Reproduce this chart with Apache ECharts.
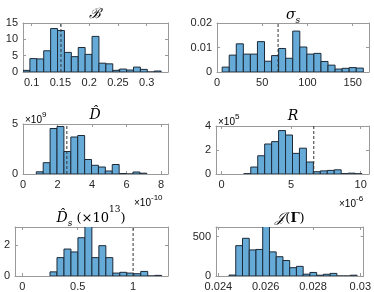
<!DOCTYPE html>
<html><head><meta charset="utf-8">
<script src="https://cdn.jsdelivr.net/npm/echarts@6/dist/echarts.min.js"></script>
<style>html,body{margin:0;padding:0;background:#fff}#c{width:374px;height:292px}</style>
</head><body><div id="c"></div>
<script>
// ---- data ----
const bEdges = [0.085,0.097,0.109,0.121,0.133,0.145,0.157,0.169,0.181,0.193,0.205,0.217,0.229,0.241,0.253,0.265,0.277,0.289,0.301,0.313,0.325];
const bVals  = [0.5,4.1,4.0,6.5,13.3,12.7,6.0,4.7,7.5,5.4,10.9,2.7,2.5,0.5,0.9,0.6,1.5,0.8,0,0.3];
const bMark = 0.151;

const sEdges = [5.7,13.5,21.3,29.1,36.9,44.7,52.5,60.3,68.1,75.9,83.7,91.5,99.3,107.1,114.9,122.7,130.5,138.3,146.1,153.9,161.7];
const sVals  = [0.0020,0.0069,0.0115,0.0073,0.0073,0.0124,0.0044,0.0067,0.0096,0.0056,0.0167,0.0102,0.0073,0.0076,0.0043,0.0028,0.0012,0.0015,0.0018,0.0016];
const sMark = 67.5;

const dEdges = [0.77,1.17,1.57,1.97,2.37,2.77,3.17,3.57,3.97,4.37,4.77,5.17,5.57,5.97,6.37,6.77,7.17];
const dVals  = [0.22,1.13,4.55,4.75,2.25,3.7,3.85,1.45,0.87,0.7,0.3,0.95,0.05,0,0.2,0.08];
const dMark = 2.54;

const rEdges = [1.6,2.1,2.6,3.1,3.6,4.1,4.6,5.1,5.6,6.1,6.6,7.1,7.6,8.1,8.6,9.1,9.6,10.1];
const rVals  = [0.03,0.58,1.52,2.5,2.7,3.62,3.25,1.72,2.15,1.0,0.19,0.26,0.3,0.35,0.03,0.07,0.02];
const rMark = 6.63;

const dsEdges = [0.25,0.313,0.376,0.439,0.502,0.565,0.628,0.691,0.754,0.817,0.88,0.943,1.006,1.069,1.132,1.195,1.258];
const dsVals  = [0.27,1.2,1.76,1.57,2.5,3.4,1.2,1.98,1.2,0.19,0.24,0.19,0.15,0.3,0,0.04];
const dsMark = 1.0;

const jEdges = [0.02445,0.024735,0.02502,0.025305,0.02559,0.025875,0.02616,0.026445,0.02673,0.027015,0.0273,0.027585,0.02787,0.028155,0.02844,0.028725,0.02901,0.029295,0.02958,0.029865];
const jVals  = [12,384,477,330,336,650,305,244,196,105,122,23,45,10,22,33,0,0,10];

const bXTicks = [0.1,0.15,0.2,0.25,0.3];   const bYTicks = [0,5,10,15];
const sXTicks = [0,50,100,150];            const sYTicks = [0,0.01,0.02];
const dXTicks = [0,2,4,6,8];               const dYTicks = [0,5];
const rXTicks = [0,5,10];                  const rYTicks = [0,2,4];
const dsXTicks = [0,0.5,1];                const dsYTicks = [0,2];
const jXTicks = [0.024,0.026,0.028,0.03];  const jYTicks = [0,500];

// ---- layout ----
const panels = [
  {edges:bEdges, vals:bVals, mark:bMark, xt:bXTicks, yt:bYTicks, xr:[0.085,0.337], yr:[0,15],   g:{left:23, top:23, width:145, height:49}},
  {edges:sEdges, vals:sVals, mark:sMark, xt:sXTicks, yt:sYTicks, xr:[0,168],       yr:[0,0.02], g:{left:217,top:23, width:152, height:49}},
  {edges:dEdges, vals:dVals, mark:dMark, xt:dXTicks, yt:dYTicks, xr:[0,8.4],       yr:[0,5],    g:{left:23, top:124,width:145, height:50}},
  {edges:rEdges, vals:rVals, mark:rMark, xt:rXTicks, yt:rYTicks, xr:[-0.4,10.6],   yr:[0,4],    g:{left:216,top:126,width:153, height:48}},
  {edges:dsEdges,vals:dsVals,mark:dsMark,xt:dsXTicks,yt:dsYTicks,xr:[-0.066,1.315],yr:[0,3.2],  g:{left:15, top:227,width:153, height:49}},
  {edges:jEdges, vals:jVals, mark:null,  xt:jXTicks, yt:jYTicks, xr:[0.0239,0.03014],yr:[0,620],g:{left:216,top:227,width:153, height:50}}
];

const boxColor = '#9a9a9a';
const txtColor = '#262626';
const fmt = v => String(+(+v).toFixed(6));
const labelFont = {fontFamily:'Liberation Sans', fontSize:11, color:txtColor};

const grid=[], xAxis=[], yAxis=[], series=[];
panels.forEach((p,i)=>{
  grid.push(Object.assign({containLabel:false}, p.g));
});
panels.forEach((p,i)=>{
  xAxis.push({type:'value', gridIndex:i, min:p.xr[0], max:p.xr[1], position:'bottom',
    axisLine:{show:true, onZero:false, lineStyle:{color:boxColor, width:1}},
    axisTick:{show:true, inside:true, length:3, customValues:p.xt, lineStyle:{color:boxColor}},
    axisLabel:Object.assign({show:true, customValues:p.xt, formatter:fmt, margin:5, hideOverlap:false, showMinLabel:true, showMaxLabel:true}, labelFont),
    splitLine:{show:false}});
});
panels.forEach((p,i)=>{
  xAxis.push({type:'value', gridIndex:i, min:p.xr[0], max:p.xr[1], position:'top',
    axisLine:{show:true, onZero:false, lineStyle:{color:boxColor, width:1}},
    axisTick:{show:true, inside:true, length:3, customValues:p.xt, lineStyle:{color:boxColor}},
    axisLabel:{show:false}, splitLine:{show:false}});
});
panels.forEach((p,i)=>{
  yAxis.push({type:'value', gridIndex:i, min:p.yr[0], max:p.yr[1], position:'left',
    axisLine:{show:true, onZero:false, lineStyle:{color:boxColor, width:1}},
    axisTick:{show:true, inside:true, length:3, customValues:p.yt, lineStyle:{color:boxColor}},
    axisLabel:Object.assign({show:true, customValues:p.yt, formatter:fmt, margin:5, showMinLabel:true, showMaxLabel:true}, labelFont),
    splitLine:{show:false}});
});
panels.forEach((p,i)=>{
  yAxis.push({type:'value', gridIndex:i, min:p.yr[0], max:p.yr[1], position:'right',
    axisLine:{show:true, onZero:false, lineStyle:{color:boxColor, width:1}},
    axisTick:{show:true, inside:true, length:3, customValues:p.yt, lineStyle:{color:boxColor}},
    axisLabel:{show:false}, splitLine:{show:false}});
});

panels.forEach((p,i)=>{
  const data = p.vals.map((v,k)=>[p.edges[k], p.edges[k+1], v]);
  series.push({type:'custom', xAxisIndex:i, yAxisIndex:i, clip:true, silent:true, animation:false,
    data, encode:{x:[0,1], y:2},
    renderItem:(params, api)=>{
      const a = api.coord([api.value(0), api.value(2)]);
      const b = api.coord([api.value(1), 0]);
      return {type:'rect', shape:{x:a[0], y:a[1], width:b[0]-a[0], height:b[1]-a[1]},
        style:{fill:'#66aad7', stroke:'#1c2a38', lineWidth:1}};
    }});
  if(p.mark!==null){
    series.push({type:'line', xAxisIndex:i, yAxisIndex:i, symbol:'none', silent:true, animation:false,
      data:[[p.mark,p.yr[0]],[p.mark,p.yr[1]]],
      lineStyle:{color:'#333', width:1, type:[3,2]}, z:5});
  }
});

const serif = 'DejaVu Serif';
const titleRich = {
  i:{fontFamily:serif, fontStyle:'italic', fontSize:14, color:'#000', lineHeight:20, verticalAlign:'bottom'},
  n:{fontFamily:serif, fontSize:13, color:'#000', lineHeight:20, verticalAlign:'bottom'},
  b:{fontFamily:serif, fontWeight:'bold', fontSize:13, color:'#000', lineHeight:20, verticalAlign:'bottom'},
  sub:{fontFamily:serif, fontStyle:'italic', fontSize:9, color:'#000', lineHeight:14, verticalAlign:'bottom', padding:[0,0,-3,0]},
  sup:{fontFamily:serif, fontSize:9, color:'#000', lineHeight:20, verticalAlign:'top'}
};
const expRich = {
  n:{fontFamily:'Liberation Sans', fontSize:10, color:txtColor, lineHeight:14, verticalAlign:'bottom'},
  s:{fontFamily:'Liberation Sans', fontSize:8, color:txtColor, lineHeight:14, verticalAlign:'top'}
};
function T(x,y,text,rich,align){ return {type:'text', left:undefined, x, y, style:{text, rich, align:align||'center', verticalAlign:'middle'}, silent:true}; }
const graphic = [
  T(95, 11, '{i|ℬ}', titleRich),
  T(293, 12, '{i|σ}{sub|s}', titleRich),
  T(95, 112, '{i|D̂}', titleRich),
  T(293, 113, '{i|R}', titleRich),
  T(91, 215, '{i|D̂}{sub|s}{n| (×10}{sup|13}{n|)}', titleRich),
  T(290, 215, '{i|𝒥}{n|(}{b|Γ}{n|)}', titleRich),
  T(25, 118, '{n|×10}{s|9}', expRich, 'left'),
  T(218, 120, '{n|×10}{s|5}', expRich, 'left'),
  T(134, 201, '{n|×10}{s|-10}', expRich, 'left'),
  T(339, 202, '{n|×10}{s|-6}', expRich, 'left')
];

const chart = echarts.init(document.getElementById('c'), null, {renderer:'canvas'});
chart.setOption({animation:false, grid, xAxis, yAxis, series, graphic});
</script></body></html>
